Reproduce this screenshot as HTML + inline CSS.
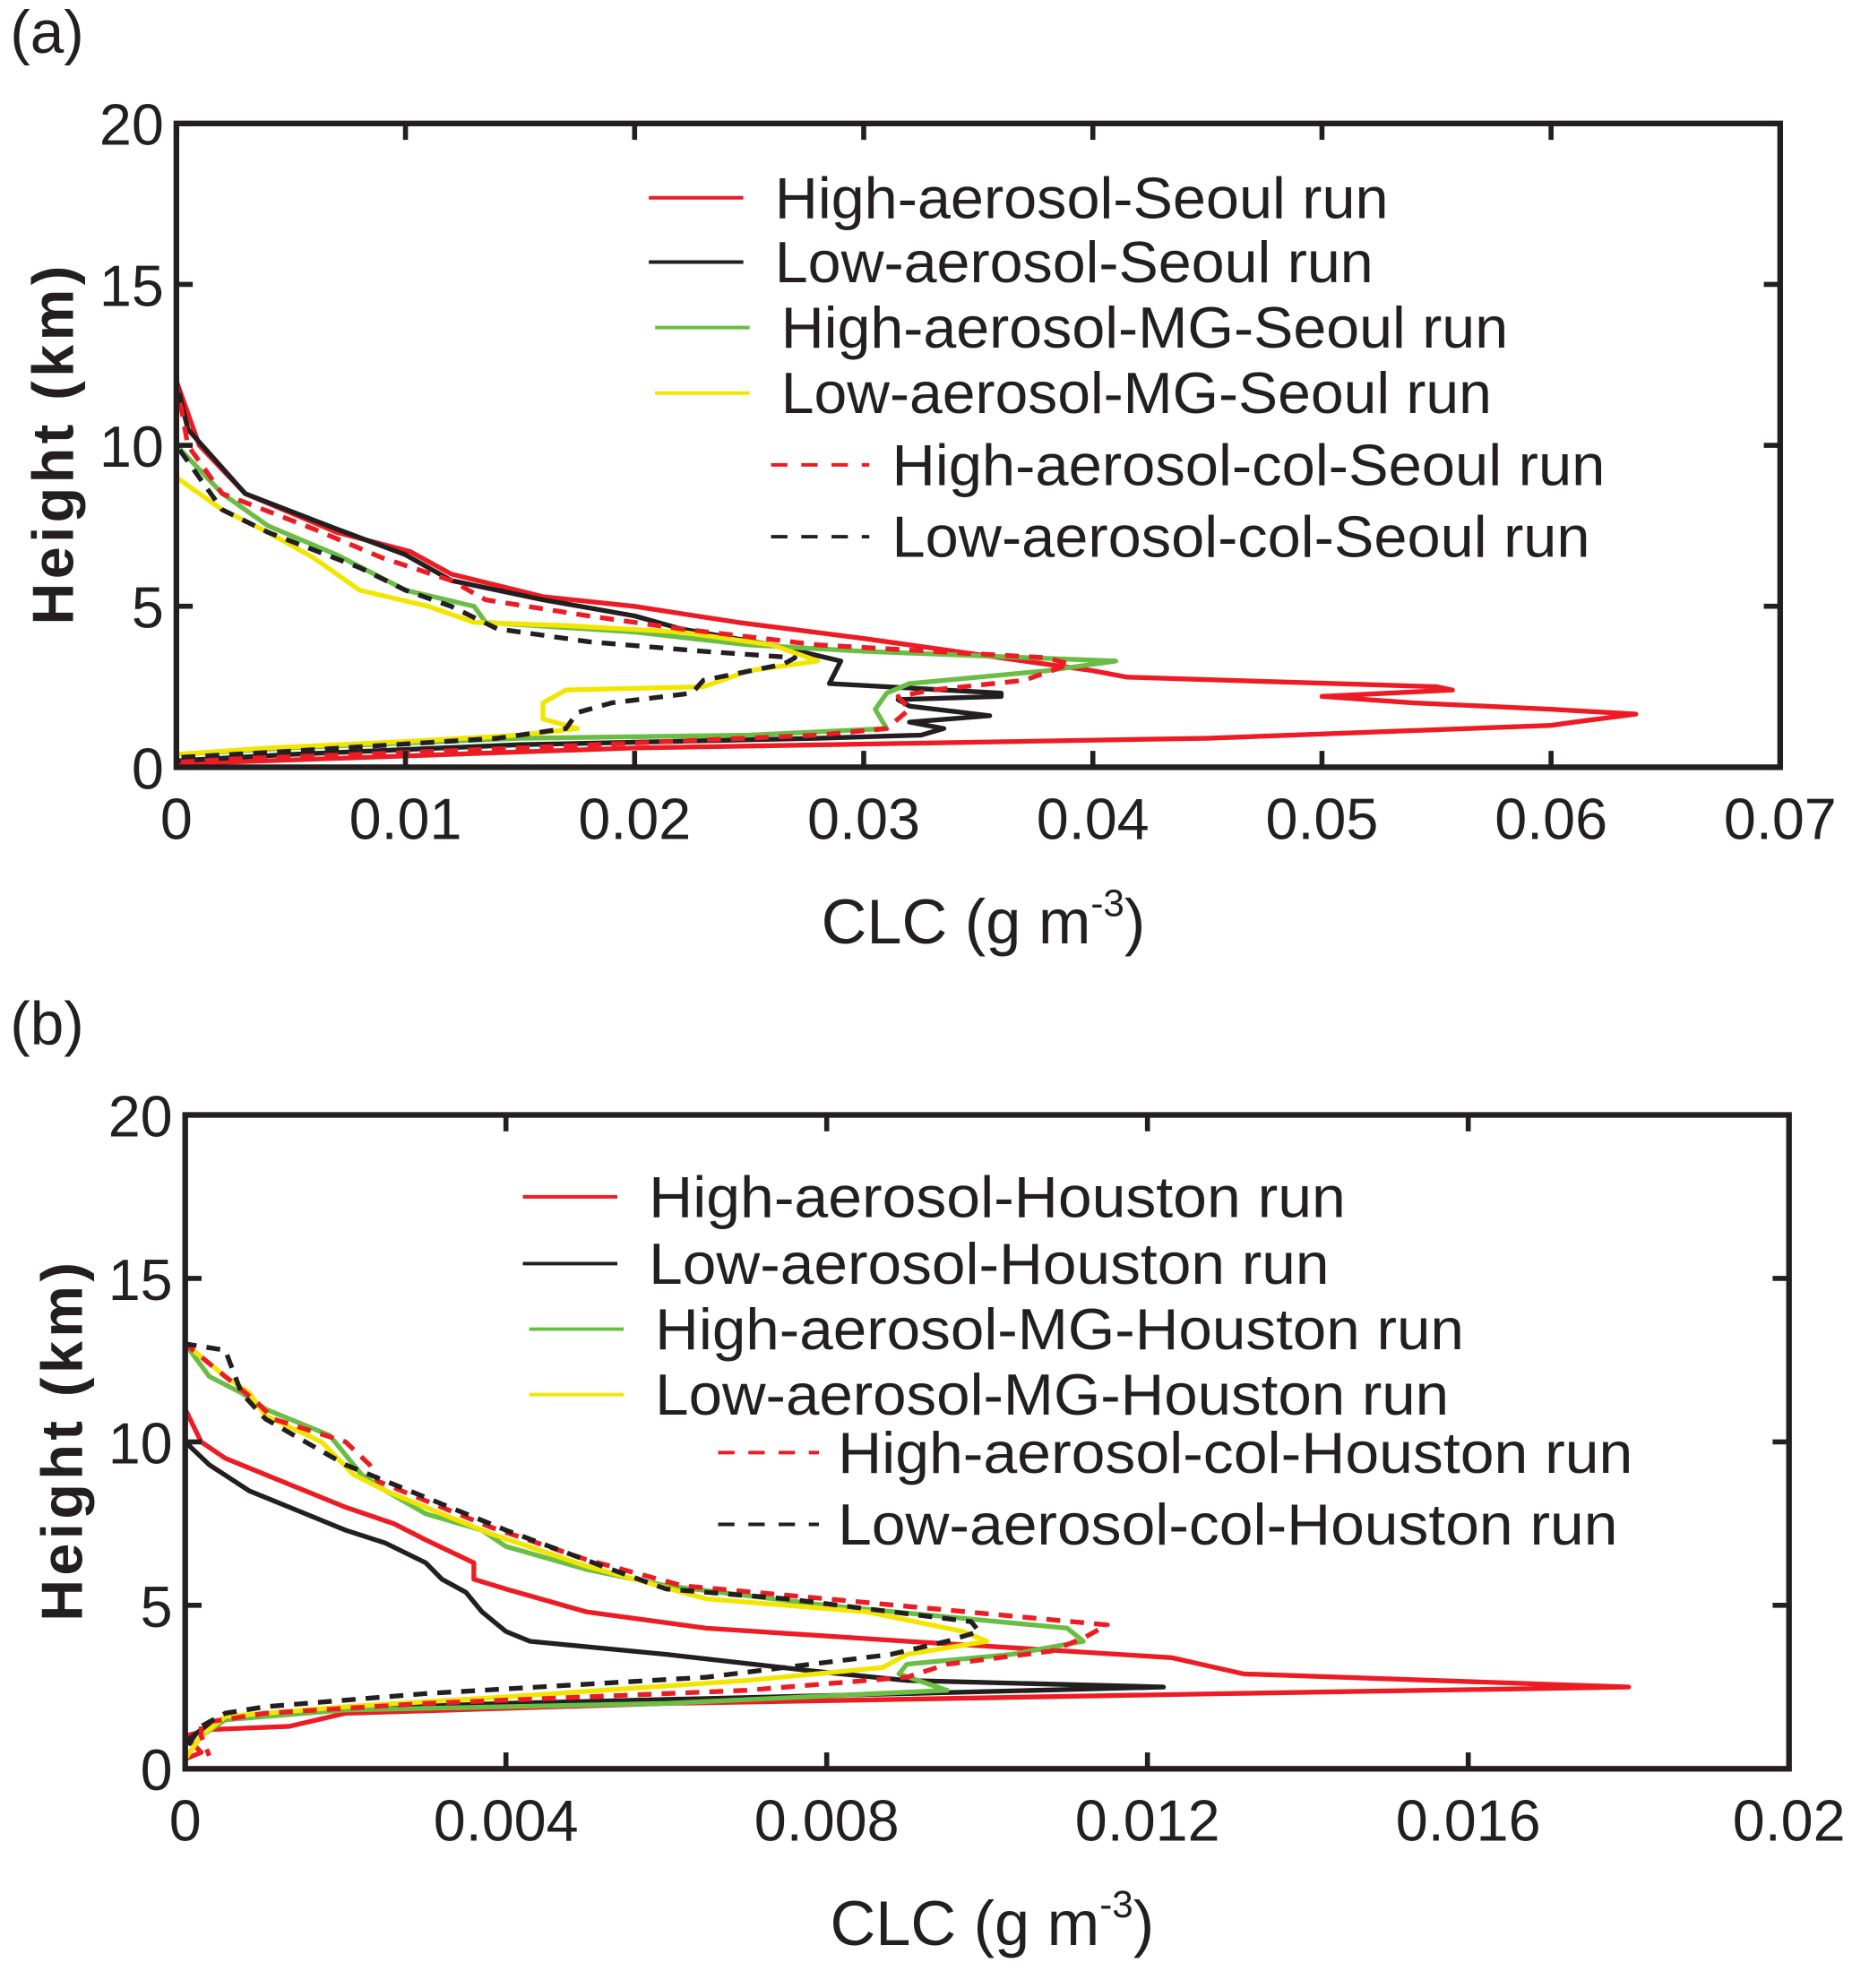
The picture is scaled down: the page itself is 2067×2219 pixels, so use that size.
<!DOCTYPE html>
<html><head><meta charset="utf-8"><style>
html,body{margin:0;padding:0;background:#fff;}
svg{display:block;}
text{font-family:"Liberation Sans Narrow","Liberation Sans",sans-serif;fill:#231f20;}
</style></head><body>
<svg id="fig" width="2067" height="2219" viewBox="0 0 1470 1578" preserveAspectRatio="none" xmlns="http://www.w3.org/2000/svg"></svg>
<script>
// ---- Panel (a) data ----
const a_xTicks = [0,0.01,0.02,0.03,0.04,0.05,0.06,0.07];
const a_xTickLabels = ["0","0.01","0.02","0.03","0.04","0.05","0.06","0.07"];
const yTicks = [0,5,10,15,20];
const yTickLabels = ["0","5","10","15","20"];
const a_names = ["High-aerosol-Seoul run","Low-aerosol-Seoul run","High-aerosol-MG-Seoul run","Low-aerosol-MG-Seoul run","High-aerosol-col-Seoul run","Low-aerosol-col-Seoul run"];
const a_highX = [0,0,0.0005,0.001,0.003,0.007,0.0102,0.012,0.016,0.02,0.0245,0.03,0.035,0.04,0.0415,0.055,0.0557,0.050,0.054,0.06,0.0637,0.061,0.060,0.045,0.02,0.008,0];
const a_highY = [18.5,12,11,10,8.5,7.3,6.7,6.0,5.3,5.0,4.5,4.0,3.5,3.0,2.8,2.5,2.4,2.2,2.0,1.8,1.65,1.4,1.3,0.9,0.6,0.3,0.1];
const a_lowX = [0,0,0.0005,0.003,0.007,0.01,0.012,0.016,0.02,0.022,0.026,0.029,0.0285,0.036,0.036,0.0315,0.032,0.0355,0.032,0.0335,0.0325,0.028,0.015,0.005,0];
const a_lowY = [18,12,10.5,8.5,7.4,6.6,5.8,5.2,4.7,4.3,3.8,3.3,2.6,2.3,2.2,2.1,1.9,1.6,1.4,1.2,1.0,0.9,0.7,0.4,0.2];
const a_hmgX = [0,0,0,0.002,0.004,0.007,0.01,0.013,0.0135,0.02,0.025,0.03,0.041,0.038,0.032,0.031,0.0305,0.031,0.025,0.015,0.005,0];
const a_hmgY = [18.5,13,10,8.5,7.5,6.6,5.5,5.0,4.5,4.2,3.8,3.6,3.3,3.0,2.6,2.3,1.8,1.2,1.0,0.9,0.6,0.4];
const a_lmgX = [0,0,0.002,0.004,0.006,0.008,0.011,0.013,0.017,0.022,0.026,0.028,0.025,0.023,0.017,0.016,0.016,0.0175,0.015,0.01,0.004,0];
const a_lmgY = [10,9.0,8.0,7.3,6.5,5.5,5.0,4.5,4.4,4.2,3.8,3.3,3.0,2.5,2.4,2.0,1.5,1.2,1.0,0.8,0.6,0.4];
const a_hcolX = [0,0,0.0005,0.002,0.006,0.009,0.012,0.0135,0.018,0.022,0.028,0.038,0.039,0.037,0.033,0.0315,0.032,0.031,0.028,0.015,0.008,0];
const a_hcolY = [18,12,10,8.5,7.4,6.5,5.8,5.2,4.7,4.3,3.8,3.4,3.2,2.7,2.4,2.2,1.8,1.2,1.0,0.6,0.4,0.2];
const a_lcolX = [0,0,0,0.002,0.004,0.008,0.01,0.012,0.014,0.018,0.023,0.027,0.0265,0.023,0.0225,0.019,0.0175,0.017,0.014,0.005,0];
const a_lcolY = [18,12,10,8,7.3,6.2,5.5,5.0,4.3,3.9,3.6,3.4,3.2,2.7,2.3,2.0,1.7,1.2,0.9,0.5,0.3];

// ---- Panel (b) data ----
const b_xTicks = [0,0.004,0.008,0.012,0.016,0.02];
const b_xTickLabels = ["0","0.004","0.008","0.012","0.016","0.02"];
const b_names = ["High-aerosol-Houston run","Low-aerosol-Houston run","High-aerosol-MG-Houston run","Low-aerosol-MG-Houston run","High-aerosol-col-Houston run","Low-aerosol-col-Houston run"];
const b_highX = [0,0.0002,0.0005,0.001,0.002,0.0026,0.003,0.0036,0.0036,0.004,0.005,0.0065,0.009,0.011,0.0123,0.0132,0.018,0.013,0.006,0.002,0.0013,0.0003,0,0.0002,0];
const b_highY = [11,10,9.5,9.0,8.0,7.5,7.0,6.3,5.8,5.5,4.8,4.3,3.9,3.6,3.4,2.9,2.5,2.3,2.0,1.7,1.3,1.2,1.0,0.5,0.3];
const b_lowX = [0,0.0003,0.0008,0.0015,0.002,0.0025,0.003,0.0032,0.0035,0.0037,0.004,0.0043,0.006,0.0078,0.009,0.0122,0.009,0.004,0.0015,0.0005,0.0002,0,0];
const b_lowY = [10,9.3,8.5,7.8,7.3,6.9,6.3,5.8,5.4,4.8,4.2,3.9,3.5,3.0,2.7,2.5,2.3,2.0,1.8,1.5,1.2,0.8,0];
const b_hmgX = [0,0,0.0003,0.0007,0.001,0.0018,0.0022,0.0025,0.003,0.0037,0.004,0.005,0.006,0.008,0.011,0.0112,0.0103,0.009,0.0089,0.0095,0.006,0.002,0.0005,0.0002,0];
const b_hmgY = [16.5,13,12,11.5,11,10.2,9.0,8.5,7.8,7.3,6.8,6.1,5.6,5.0,4.3,3.9,3.5,3.2,2.9,2.4,2.0,1.8,1.5,1.0,0.3];
const b_lmgX = [0,0,0.0005,0.0008,0.001,0.0017,0.0021,0.0025,0.003,0.0038,0.005,0.0062,0.0065,0.0085,0.0097,0.01,0.009,0.0087,0.007,0.004,0.002,0.0005,0.0002,0];
const b_lmgY = [16.5,13,12,11.5,10.8,10,9.0,8.5,8.0,7.2,6.2,5.4,5.2,4.8,4.2,3.9,3.5,3.1,2.7,2.2,1.9,1.6,1.0,0.3];
const b_hcolX = [0,0,0.0005,0.0009,0.0011,0.002,0.0023,0.0024,0.003,0.0038,0.005,0.0062,0.008,0.0115,0.0112,0.0108,0.0095,0.009,0.007,0.003,0.001,0.0002,0.0002,0.0003];
const b_hcolY = [16,13,12,11.2,10.7,10,9.3,8.8,8.2,7.4,6.4,5.6,5.2,4.4,4.0,3.6,3.2,2.8,2.4,2.0,1.7,1.4,1.0,0.4];
const b_lcolX = [0,0,0.0005,0.0007,0.001,0.0015,0.002,0.003,0.004,0.0052,0.006,0.0075,0.0098,0.0099,0.0095,0.0088,0.0078,0.0065,0.003,0.001,0.0005,0.0002,0];
const b_lcolY = [16,13,12.8,11.5,10.7,10,9.3,8.3,7.3,6.2,5.5,5.2,4.5,4.2,3.9,3.5,3.2,2.8,2.3,1.9,1.7,1.3,0.6];

const NS = "http://www.w3.org/2000/svg";
const svg = document.getElementById('fig');
function mk(tag, attrs, parent){
  const e = document.createElementNS(NS, tag);
  for (const k in attrs) e.setAttribute(k, attrs[k]);
  (parent||svg).appendChild(e);
  return e;
}
const RED="#ed1c24", BLK="#231f20", GRN="#6abd45", YEL="#f2e500";

function panel(cfg){
  const g = mk('g', {});
  
  
  const L=cfg.L,R=cfg.R,T=cfg.T,B=cfg.B;
  const xs = v => L + (v - 0)/(cfg.xmax) * (R-L);
  const ys = v => B - v/20 * (B-T);
  const pl = mk('text', {x:8, y:cfg.T-56, 'font-size':48, 'font-family':'Liberation Sans, sans-serif'}, g);
  pl.textContent = cfg.label;
  
  
  const series = [
    [cfg.d[0],cfg.d[1],RED,null],[cfg.d[2],cfg.d[3],BLK,null],
    [cfg.d[4],cfg.d[5],GRN,null],[cfg.d[6],cfg.d[7],YEL,null],
    [cfg.d[8],cfg.d[9],RED,'11 8'],[cfg.d[10],cfg.d[11],BLK,'11 8']];
  const snames=['high-aerosol-line','low-aerosol-line','high-aerosol-mg-line','low-aerosol-mg-line','high-aerosol-col-line','low-aerosol-col-line'];
  series.forEach((s,i)=>{
    const pts = s[0].map((x,j)=>xs(x).toFixed(1)+','+ys(s[1][j]).toFixed(1)).join(' ');
    const p = mk('polyline', {points:pts, fill:'none', stroke:s[2], 'stroke-width':3.8, 'stroke-linejoin':'round'}, g);
    if (s[3]) p.setAttribute('stroke-dasharray', s[3]);
    
    
  });
  const fr = mk('rect', {x:L, y:T, width:R-L, height:B-T, fill:'none', stroke:BLK, 'stroke-width':4.5}, g);
  
  
  cfg.xt.forEach((v,i)=>{
    const x = xs(v);
    mk('line',{x1:x,y1:B,x2:x,y2:B-13,stroke:BLK,'stroke-width':4},g);
    mk('line',{x1:x,y1:T,x2:x,y2:T+13,stroke:BLK,'stroke-width':4},g);
    const t = mk('text',{x:x, y:B+57, 'font-size':46, 'text-anchor':'middle', 'font-family':'Liberation Sans, sans-serif'},g);
    t.textContent = cfg.xl[i];
    
    
  });
  yTicks.forEach((v,i)=>{
    const y = ys(v);
    mk('line',{x1:L,y1:y,x2:L+13,y2:y,stroke:BLK,'stroke-width':4},g);
    mk('line',{x1:R,y1:y,x2:R-13,y2:y,stroke:BLK,'stroke-width':4},g);
    const t = mk('text',{x:L-10, y:y+17, 'font-size':46, 'text-anchor':'end', 'font-family':'Liberation Sans, sans-serif'},g);
    t.textContent = yTickLabels[i];
    
    
  });
  const xt = mk('text',{x:(L+R)/2+4, y:B+140, 'font-size':50, 'text-anchor':'middle', 'font-family':'Liberation Sans, sans-serif'},g);
  xt.innerHTML = 'CLC (g m<tspan dy="-22" font-size="30">-3</tspan><tspan dy="22">)</tspan>';
  
  
  const yt = mk('text',{x:0, y:0, 'font-size':46, 'font-weight':'bold', 'text-anchor':'middle', 'font-family':'DejaVu Sans, sans-serif', transform:`translate(${cfg.L-82},${(T+B)/2}) rotate(-90)`},g);
  yt.textContent = 'Height (km)';
  yt.setAttribute('textLength', 285);
  
  
  cfg.leg.forEach((e,i)=>{
    const lg = mk('g',{},g);
    
    
    const ln = mk('line',{x1:e[0],y1:e[3],x2:e[1],y2:e[3],stroke:series[i][2],'stroke-width':2.8},lg);
    if (series[i][3]) ln.setAttribute('stroke-dasharray','13 11');
    const t = mk('text',{x:e[2], y:e[3]+16, 'font-size':46, textLength:e[4], lengthAdjust:'spacingAndGlyphs'},lg);
    t.textContent = cfg.names[i];
  });
}

panel({id:'panel-a-seoul', label:'(a)', L:140, R:1413, T:98, B:609, xmax:0.07,
  xt:a_xTicks, xl:a_xTickLabels, names:a_names,
  d:[a_highX,a_highY,a_lowX,a_lowY,a_hmgX,a_hmgY,a_lmgX,a_lmgY,a_hcolX,a_hcolY,a_lcolX,a_lcolY],
  leg:[[515,590,615,157,487],[515,590,615,208,475],[520,595,620,260,577],[520,595,620,312,564],[612,690,708,369,566],[612,690,708,426,554]]});
panel({id:'panel-b-houston', label:'(b)', L:147, R:1420, T:885, B:1404, xmax:0.02,
  xt:b_xTicks, xl:b_xTickLabels, names:b_names,
  d:[b_highX,b_highY,b_lowX,b_lowY,b_hmgX,b_hmgY,b_lmgX,b_lmgY,b_hcolX,b_hcolY,b_lcolX,b_lcolY],
  leg:[[415,490,515,950,553],[415,490,515,1003,540],[420,495,520,1055,642],[420,495,520,1107,630],[570,650,665,1153,631],[570,650,665,1210,619]]});
</script>
</body></html>
